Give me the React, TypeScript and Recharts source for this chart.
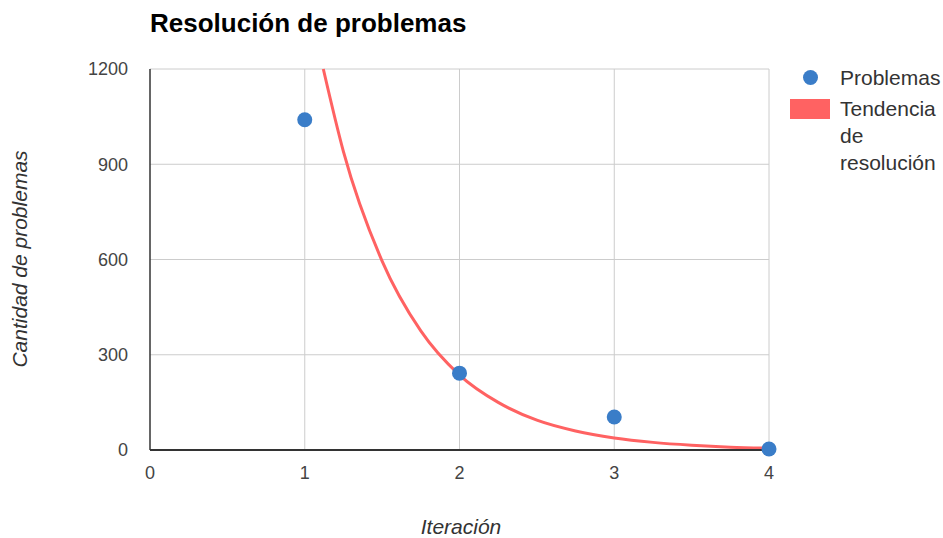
import { ComposedChart, Line, Scatter, XAxis, YAxis, CartesianGrid } from "recharts";

// observed problem counts per iteration
const iterations = [1, 2, 3, 4];
const problemCounts = [1040, 242, 104, 3];

// trend curve
const trendX = [1.12, 1.25, 1.5, 1.75, 2, 2.25, 2.5, 2.75, 3, 3.25, 3.5, 3.75, 4];
const trendY = [1200, 940, 595, 375, 236, 150, 94, 60, 38, 24, 15, 9, 6];

const xTicks = [0, 1, 2, 3, 4];
const yTicks = [0, 300, 600, 900, 1200];

const problemData = iterations.map((it, i) => ({ x: it, y: problemCounts[i] }));
const trendData = trendX.map((x, i) => ({ x, y: trendY[i] }));

const BLUE = "#3a7dc8";
const RED = "#ff6262";
const font = "'Liberation Sans', Arial, sans-serif";

const App = () => {
  return (
    <div style={{ position: "absolute", left: 0, top: 0, width: 943, height: 538, background: "#fff", fontFamily: font }}>
      <div
        style={{
          position: "absolute",
          left: 150,
          top: 8,
          fontWeight: 700,
          fontSize: 26,
          color: "#000",
          whiteSpace: "nowrap",
        }}
      >
        Resolución de problemas
      </div>

      <ComposedChart width={943} height={538} margin={{ top: 69, right: 174, left: 90, bottom: 58 }}>
        <CartesianGrid stroke="#cccccc" verticalValues={[1, 2, 3, 4]} horizontalValues={[300, 600, 900, 1200]} />
        <XAxis
          type="number"
          dataKey="x"
          domain={[0, 4]}
          ticks={xTicks}
          height={30}
          axisLine={{ stroke: "#333", strokeWidth: 2 }}
          tickLine={false}
          tickSize={0}
          tickMargin={16}
          tick={{ fill: "#444", fontSize: 18, fontFamily: font }}
        />
        <YAxis
          type="number"
          dataKey="y"
          domain={[0, 1200]}
          ticks={yTicks}
          width={60}
          axisLine={{ stroke: "#333", strokeWidth: 1.5 }}
          tickLine={false}
          tickSize={0}
          tickMargin={22}
          tick={{ fill: "#444", fontSize: 18, fontFamily: font }}
        />
        <Line
          data={trendData}
          dataKey="y"
          type="monotone"
          stroke={RED}
          strokeWidth={3}
          dot={false}
          activeDot={false}
          isAnimationActive={false}
        />
        <Scatter
          data={problemData}
          dataKey="y"
          fill={BLUE}
          shape={(p: any) => <circle cx={p.cx} cy={p.cy} r={7.5} fill={BLUE} />}
          isAnimationActive={false}
        />
      </ComposedChart>

      <div
        style={{
          position: "absolute",
          left: 20,
          top: 259,
          transform: "translate(-50%, -50%) rotate(-90deg)",
          fontStyle: "italic",
          fontSize: 21,
          color: "#333",
          whiteSpace: "nowrap",
        }}
      >
        Cantidad de problemas
      </div>
      <div
        style={{
          position: "absolute",
          left: 461,
          top: 513,
          transform: "translateX(-50%)",
          fontStyle: "italic",
          fontSize: 21,
          lineHeight: "27px",
          color: "#333",
        }}
      >
        Iteración
      </div>

      {/* legend */}
      <div style={{ position: "absolute", left: 803, top: 70, width: 15, height: 15, borderRadius: "50%", background: BLUE }} />
      <div style={{ position: "absolute", left: 840, top: 64, fontSize: 21, lineHeight: "27px", color: "#333" }}>Problemas</div>
      <div style={{ position: "absolute", left: 790, top: 99, width: 40, height: 20, background: RED }} />
      <div style={{ position: "absolute", left: 840, top: 95, fontSize: 21, color: "#333", lineHeight: "27px" }}>
        Tendencia
        <br />
        de
        <br />
        resolución
      </div>
    </div>
  );
};

export default App;
